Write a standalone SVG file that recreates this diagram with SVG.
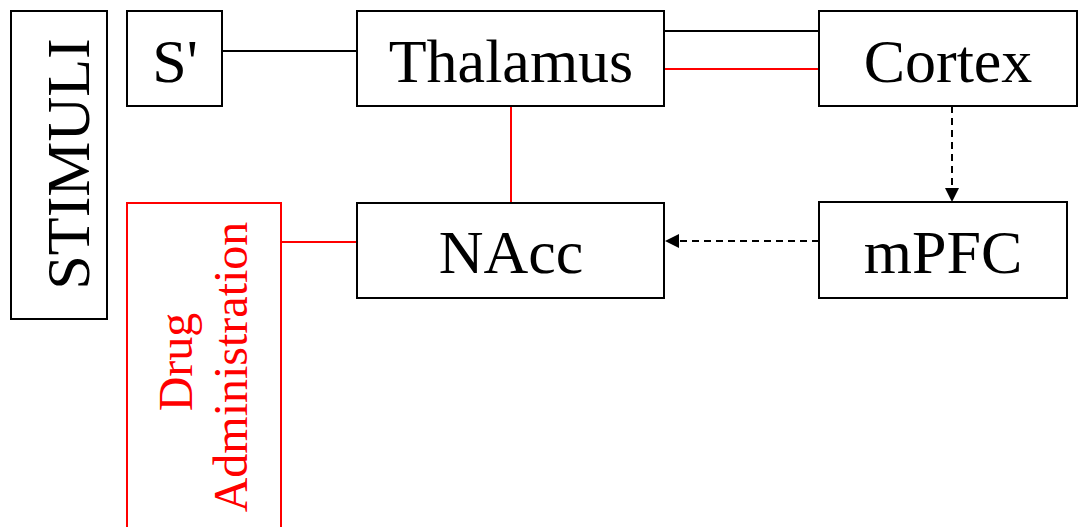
<svg xmlns="http://www.w3.org/2000/svg" width="1079" height="527" viewBox="0 0 1079 527">
<defs>
<style>
.box{fill:#fff;stroke:#000;stroke-width:2}
.rbox{fill:#fff;stroke:#f00;stroke-width:2}
.t{font-family:"Liberation Serif","Times New Roman",serif;font-size:62px;fill:#000;text-anchor:middle}
.rt{font-family:"Liberation Serif","Times New Roman",serif;font-size:48px;fill:#f00;text-anchor:middle}
.ln{stroke:#000;stroke-width:2;fill:none}
.rl{stroke:#f00;stroke-width:2;fill:none}
.dl{stroke:#000;stroke-width:2;fill:none;stroke-dasharray:7 5}
</style>
<marker id="ah" viewBox="0 0 14 14" refX="14" refY="7" markerWidth="14" markerHeight="14" markerUnits="userSpaceOnUse" orient="auto">
<path d="M0,0 L14,7 L0,14 Z" fill="#000"/>
</marker>
</defs>
<rect width="1079" height="527" fill="#fff"/>
<g id="connectors">
<line class="ln" x1="222" y1="51" x2="357" y2="51"/>
<line class="ln" x1="664" y1="31" x2="819" y2="31"/>
<line class="rl" x1="664" y1="69" x2="819" y2="69"/>
<line class="rl" x1="511" y1="106" x2="511" y2="203"/>
<line class="rl" x1="281" y1="242" x2="357" y2="242"/>
<line class="dl" x1="952" y1="106" x2="952" y2="202" marker-end="url(#ah)"/>
<line class="dl" x1="819" y1="241" x2="665" y2="241" marker-end="url(#ah)"/>
</g>
<g id="stimuli">
<rect class="box" x="11" y="11" width="96" height="308"/>
<text class="t" transform="translate(89,164) rotate(-90)">STIMULI</text>
</g>
<g id="s-prime">
<rect class="box" x="127" y="11" width="95" height="95"/>
<text class="t" x="175" y="82">S'</text>
</g>
<g id="thalamus">
<rect class="box" x="357" y="11" width="307" height="95"/>
<text class="t" x="511" y="82">Thalamus</text>
</g>
<g id="cortex">
<rect class="box" x="819" y="11" width="258" height="95"/>
<text class="t" x="948" y="82">Cortex</text>
</g>
<g id="nacc">
<rect class="box" x="357" y="203" width="307" height="95"/>
<text class="t" x="511" y="273">NAcc</text>
</g>
<g id="mpfc">
<rect class="box" x="819" y="202" width="248" height="96"/>
<text class="t" x="943" y="273">mPFC</text>
</g>
<g id="drug-administration">
<path class="rbox" d="M127,530 L127,203 L281,203 L281,530"/>
<text class="rt" transform="translate(192,362) rotate(-90)">Drug</text>
<text class="rt" transform="translate(247,367) rotate(-90)">Administration</text>
</g>
</svg>
